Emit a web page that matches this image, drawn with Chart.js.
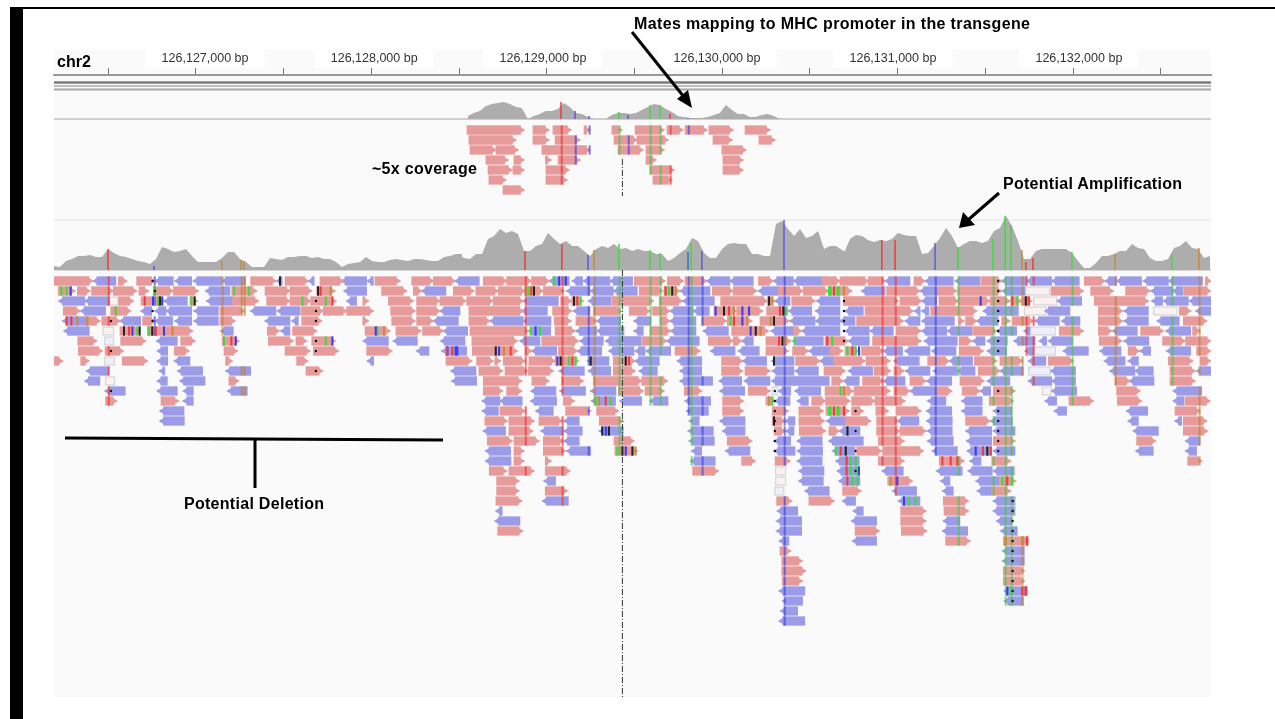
<!DOCTYPE html>
<html>
<head>
<meta charset="utf-8">
<title>chr2 read pileup</title>
<script src="https://cdn.jsdelivr.net/npm/chart.js@4/dist/chart.umd.min.js"></script>
<style>
  html, body { margin: 0; background: #fff; overflow: hidden; }
  #page { position: relative; width: 1275px; height: 719px; }
  #sidebar { position: absolute; left: 10px; top: 8px; width: 13px; height: 711px; background: #000; }
  #topline { position: absolute; left: 10px; top: 7px; width: 1265px; height: 2px; background: #000; }
  canvas { position: absolute; left: 0; top: 0; filter: blur(0.45px); }
  svg { position: absolute; left: 0; top: 0; filter: blur(0.3px); }
  svg text { font: bold 16px "Liberation Sans", Arial, sans-serif; fill: #000; }
</style>
</head>
<body>
<div id="page">
  <canvas id="igv" width="1275" height="719"></canvas>
  <div id="sidebar"></div>
  <div id="topline"></div>
  <svg width="1275" height="719">
    <text x="634" y="29" textLength="396">Mates mapping to MHC promoter in the transgene</text>
    <text x="372" y="174" textLength="105">~5x coverage</text>
    <text x="1003" y="189" textLength="179">Potential Amplification</text>
    <text x="184" y="509" textLength="140">Potential Deletion</text>
    <text x="57" y="67">chr2</text>
    <line x1="632" y1="32" x2="684" y2="97" stroke="#000" stroke-width="3"/>
    <polygon points="692,108 677,99 688,90" fill="#000"/>
    <line x1="999" y1="193" x2="968" y2="220" stroke="#000" stroke-width="3"/>
    <polygon points="959,228 963,212 975,225" fill="#000"/>
    <line x1="65" y1="438" x2="443" y2="440" stroke="#000" stroke-width="3"/>
    <line x1="255" y1="440" x2="255" y2="488" stroke="#000" stroke-width="3"/>
  </svg>
</div>
<script>
const bpOrigin = 126126000;
const viewStart = 191;
const viewEnd = 6786;

const rulerTicks = [500, 1000, 1500, 2000, 2500, 3000, 3500, 4000, 4500, 5000, 5500, 6000, 6500];
const rulerLabels = ["126,127,000 bp", "126,128,000 bp", "126,129,000 bp", "126,130,000 bp", "126,131,000 bp", "126,132,000 bp"];
const rulerLabelCentres = [1052, 2016, 2978, 3970, 4973, 6033];

// read depth, sampled every 34 bp
const topDepthStart = 2550;
const topDepth = [3,6,8,13,15,16,17,15,12,11,0,3,5,8,8,10,16,12,6,5,2,0,0,0,4,6,6,5,6,9,12,15,14,10,7,3,2,1,1,1,2,4,6,14,9,5,5,2,2,4,5,3,0];

const depthLeftStart = 191;
const depthLeft = [4,3,9,11,14,14,15,13,13,21,17,14,13,11,9,8,6,11,23,21,18,19,21,14,8,8,8,8,12,18,18,11,8,3,3,3,12,11,10,13,13,14,14,12,13,11,11,8,3,6,7,8,13,9,8,8,10,11,10,9,11,11,10,9,9,13,14,16,16];
const depthMiddleStart = 2494;
const depthMiddle = [16,12,11,16,16,31,34,41,37,39,36,19,19,24,26,37,31,26,29,24,24,19,14,21,24,22,26,21,22,19,21,19,19,16,16,9,12,17,21,32,29,17,12,12,21,26,27,26,26,16,16,14,14,46,49,41,34,41,32,34,39,21,24,24,20,17];
const depthRightStart = 4694;
const depthRight = [17,31,35,34,30,28,30,29,31,37,35,34,34,16,17,24,32,42,34,22,26,29,29,27,29,39,42,54,44,29,11,11,19,21,21,21,21,21,17,9,2,2,7,14,14,16,19,19,26,22,21,12,9,9,11,22,24,29,22,21,12,14];

// columns where most reads disagree with the reference: [position, depth]
const redSites = [[499,21],[2876,19],[3086,26],[4910,30],[4985,30],[5731,8],[5771,12]];
const blueSites = [[761,4],[3235,15],[3805,18],[3884,19],[4352,50],[5213,27]];
const greenSites = [[3411,26],[3588,20],[3645,17],[3822,27],[5344,23],[5543,31],[5612,54],[5646,45],[5993,18],[6563,15]];
const orangeSites = [[1148,9],[1257,10],[1274,9],[3269,20],[5708,20],[6239,16],[6717,22]];

const topRedSites = [[3081,17],[3702,5]];
const topBlueSites = [[3161,8],[3240,3],[3463,4],[3805,1]];
const topGreenSites = [[3411,7],[3588,14],[3645,14]];

// [row, start, end]
const topReads = [
  [1,2545,2870],[1,2921,3012],[1,3035,3138],[1,3212,3246],[1,3371,3428],[1,3503,3668],[1,3685,3776],[1,3788,3913],[1,3924,4061],[1,4130,4272],
  [2,2556,2824],[2,2921,3012],[2,3047,3189],[2,3383,3514],[2,3514,3691],[2,3947,4055],[2,4209,4300],
  [3,2562,2710],[3,2710,2836],[3,2972,3246],[3,3406,3548],[3,3565,3668],[3,3998,4135],
  [4,2653,2779],[4,2813,2870],[4,2995,3024],[4,3064,3189],[4,3565,3622],[4,4004,4118],
  [5,2665,2801],[5,2807,2870],[5,2995,3126],[5,3588,3725],[5,4004,4118],
  [6,2670,2767],[6,2995,3115],[6,3605,3713],
  [7,2750,2870]
];

const forwardReads = [
  [1,191,411],[1,558,605],[1,662,767],[1,1312,1456],[1,1508,1641],[1,1707,1840],[1,2021,2163],[1,2230,2353],[1,2353,2477],[1,2638,2771],[1,2771,2913],[1,2913,3014],[1,3499,3674],[1,3687,3778],[1,3788,3911],[1,4206,4291],[1,4567,4671],[1,4671,4833],[1,4833,4928],[1,5093,5156],[1,5475,5593],[1,6064,6182],[1,6757,6786],
  [2,215,310],[2,324,396],[2,405,529],[2,529,662],[2,675,729],[2,757,871],[2,871,1013],[2,1204,1346],[2,1394,1536],[2,1536,1660],[2,1688,1793],[2,2058,2201],[2,2239,2287],[2,2467,2585],[2,2596,2724],[2,2724,2876],[2,2876,2980],[2,2980,3098],[2,3527,3660],[2,3668,3759],[2,3943,4063],[2,4063,4196],[2,4320,4462],[2,4462,4605],[2,4605,4738],[2,4937,5127],[2,5226,5336],[2,5342,5593],[2,5874,6058],[2,6100,6229],[2,6299,6438],[2,6634,6784],
  [3,559,643],[3,687,767],[3,767,818],[3,966,1008],[3,1209,1356],[3,1403,1536],[3,1536,1654],[3,1654,1798],[3,1954,1983],[3,2097,2239],[3,2258,2391],[3,2391,2539],[3,2543,2695],[3,2695,2866],[3,3079,3142],[3,3142,3208],[3,3371,3607],[3,3641,3772],[3,3991,4257],[3,4257,4300],[3,4396,4529],[3,4690,5004],[3,5013,5137],[3,5235,5346],[3,5346,5526],[3,5526,5640],[3,5646,5707],[3,5707,5763],[3,6121,6429],
  [4,244,339],[4,514,628],[4,1137,1274],[4,1599,1726],[4,1726,1859],[4,1859,2011],[4,2110,2249],[4,2258,2391],[4,2556,2866],[4,3033,3142],[4,3265,3427],[4,3470,3588],[4,3603,3702],[4,3953,4082],[4,4082,4230],[4,4253,4377],[4,4814,5089],[4,5188,5450],[4,6144,6282],[4,6605,6670],
  [5,377,453],[5,463,567],[5,696,767],[5,1137,1223],[5,1603,1717],[5,1954,1983],[5,2116,2249],[5,2258,2353],[5,2556,2676],[5,3043,3138],[5,3166,3284],[5,3645,3702],[5,3883,4025],[5,4029,4168],[5,4215,4382],[5,4766,5032],[5,5346,5378],[5,5387,5450],[5,5593,5640],[5,5653,5773],[5,6144,6282],[5,6628,6761],
  [6,567,681],[6,723,981],[6,1407,1475],[6,1551,1688],[6,1964,2106],[6,2140,2283],[6,2292,2410],[6,2562,2895],[6,3047,3161],[6,3588,3706],[6,4054,4263],[6,4405,4453],[6,4990,5133],[6,5427,5564],[6,5921,6058],[6,6144,6220],[6,6385,6514],[6,6681,6723],
  [7,326,434],[7,571,713],[7,913,995],[7,1150,1245],[7,1413,1555],[7,1570,1631],[7,1660,1794],[7,2573,2832],[7,2971,3180],[7,3541,3683],[7,3921,4063],[7,4063,4111],[7,4249,4390],[7,4586,4719],[7,4857,5133],[7,5351,5422],[7,6149,6277],[7,6510,6638],[7,6641,6784],
  [8,330,466],[8,482,586],[8,877,960],[8,1160,1236],[8,1508,1650],[8,1669,1812],[8,1973,2116],[8,2575,2832],[8,2876,2914],[8,3066,3174],[8,3731,3873],[8,4249,4377],[8,4401,4491],[8,4614,4686],[8,4700,4776],[8,4794,4918],[8,5351,5488],[8,6314,6377],[8,6704,6784],
  [9,191,240],[9,343,390],[9,580,723],[9,1169,1207],[9,1574,1637],[9,2425,2572],[9,2600,2695],[9,2705,2737],[9,2752,2876],[9,2898,3047],[9,3047,3180],[9,3379,3503],[9,3996,4116],[9,4418,4557],[9,4633,4814],[9,4819,4956],[9,5171,5294],[9,5437,5564],[9,5583,5712],[9,5859,6001],[9,6543,6681],[9,6723,6784],
  [10,1627,1722],[10,2613,2748],[10,2762,2889],[10,2895,3037],[10,3379,3503],[10,3996,4116],[10,4130,4272],[10,4580,4700],[10,4865,4960],[10,4979,5036],[10,5459,5583],[10,6552,6695],
  [11,1188,1243],[11,2638,2857],[11,2915,3012],[11,3085,3208],[11,3265,3541],[11,3541,3687],[11,4624,4690],[11,4800,4918],[11,5070,5161],[11,5355,5492],[11,6239,6324],[11,6552,6695],
  [12,2638,2748],[12,2771,2857],[12,3408,3550],[12,3560,3668],[12,3784,3883],[12,4149,4272],[12,4586,4747],[12,4751,4956],[12,4979,5070],[12,5222,5308],[12,5368,5469],[12,5545,5669],[12,6248,6381],
  [13,485,548],[13,801,900],[13,3094,3157],[13,4002,4120],[13,4249,4300],[13,4510,4589],[13,4589,4728],[13,4737,4870],[13,4870,5042],[13,5522,5659],[13,5976,6115],[13,6252,6390],[13,6638,6780],
  [14,2733,2876],[14,3107,3250],[14,3284,3408],[14,4002,4120],[14,4285,4377],[14,4437,4576],[14,4591,4724],[14,4737,4804],[14,4876,4947],[14,4990,5133],[14,6581,6723],
  [15,2647,2775],[15,2784,2927],[15,2955,3088],[15,3299,3436],[15,4285,4358],[15,4437,4582],[15,4700,4846],[15,4880,5004],[15,5387,5526],[15,6628,6761],
  [16,2784,2919],[16,4297,4358],[16,4439,4589],[16,4608,4667],[16,4880,5013],[16,5013,5161],[16,6628,6765],
  [17,2661,2803],[17,2813,2955],[17,2980,3094],[17,3383,3497],[17,4029,4168],[17,4890,5036],[17,5545,5669],[17,6362,6470],
  [18,2813,2870],[18,2980,3104],[18,3388,3516],[18,4766,4909],[18,4914,5146],
  [19,2813,2870],[19,2991,3024],[19,4110,4188],[19,4301,4386],[19,4890,5036],[19,5237,5378],[19,5536,5644],[19,6653,6733],
  [20,2672,2771],[20,2784,2927],[20,2991,3132],[20,3831,3977],
  [21,2714,2841],[21,4943,5083],[21,5579,5672],
  [22,2714,2841],[22,2991,3117],[22,4686,4791],[22,5536,5644],
  [23,2710,2857],[23,4310,4396],[23,4494,4637],[23,5260,5403],
  [24,5017,5161],[24,5264,5403],
  [25,5017,5161],
  [26,2720,2862],[26,4757,4895],[26,5021,5165],
  [27,5273,5412],[27,5602,5745],
  [28,4329,4390],
  [29,4339,4456],
  [30,4339,4475],[30,5602,5722],
  [31,4342,4456],[31,5602,5722]
];

const reverseReads = [
  [1,415,544],[1,767,871],[1,880,976],[1,985,1147],[1,1147,1283],[1,1460,1489],[1,1641,1673],[1,1830,1973],[1,1977,2011],[1,2477,2615],[1,3014,3128],[1,3145,3204],[1,3208,3360],[1,3360,3489],[1,3911,4044],[1,4044,4177],[1,4291,4405],[1,4405,4567],[1,4928,5070],[1,5156,5317],[1,5327,5469],[1,5593,5735],[1,5735,5878],[1,5878,6035],[1,6182,6248],[1,6248,6390],[1,6400,6543],[1,6543,6738],
  [2,1055,1194],[2,1844,1973],[2,2287,2425],[2,3113,3246],[2,3246,3379],[2,3379,3516],[2,3759,3930],[2,4206,4320],[2,4794,4928],[2,5127,5222],[2,5596,5726],[2,6444,6567],[2,6567,6628],
  [3,219,367],[3,367,506],[3,818,951],[3,1061,1209],[3,1859,1916],[3,2866,3066],[3,3237,3366],[3,3774,3955],[3,4300,4386],[3,4538,4671],[3,5137,5222],[3,5910,6049],[3,6448,6510],[3,6514,6657],[3,6662,6784],
  [4,343,485],[4,687,748],[4,767,829],[4,829,976],[4,989,1128],[4,1312,1456],[4,1464,1593],[4,2391,2505],[4,2857,3003],[4,3151,3246],[4,3702,3835],[4,3835,3926],[4,4377,4510],[4,4532,4671],[4,4700,4804],[4,5095,5127],[4,5137,5178],[4,5488,5688],[4,5840,5982],[4,6290,6429],[4,6700,6784],
  [5,240,377],[5,567,685],[5,767,867],[5,880,976],[5,989,1128],[5,1394,1536],[5,1546,1584],[5,2353,2496],[5,2676,2866],[5,2866,3024],[5,3284,3421],[5,3497,3592],[5,3702,3850],[5,4386,4529],[5,4532,4671],[5,4671,4757],[5,5042,5127],[5,5137,5323],[5,5450,5573],[5,5783,5921],[5,5935,6039],[5,6290,6429],[5,6480,6605],
  [6,248,392],[6,1141,1213],[6,1483,1536],[6,2410,2549],[6,2895,3022],[6,3166,3284],[6,3284,3440],[6,3497,3550],[6,3706,3850],[6,3892,4035],[6,4278,4405],[6,4453,4671],[6,4700,4838],[6,4842,4975],[6,5137,5279],[6,5283,5422],[6,5564,5678],[6,5720,5754],[6,6225,6366],[6,6529,6670],
  [7,776,894],[7,1954,2097],[7,2125,2262],[7,2395,2534],[7,2847,2961],[7,3189,3322],[7,3335,3537],[7,3683,3869],[7,4111,4177],[7,4401,4576],[7,4719,4838],[7,5152,5340],[7,5427,5498],[7,5511,5625],[7,5663,5783],[7,5807,5849],[7,5859,5995],[7,6290,6432],
  [8,780,839],[8,2258,2328],[8,2401,2543],[8,2914,3056],[8,3174,3313],[8,3354,3497],[8,3503,3560],[8,3565,3706],[8,3934,4073],[8,4092,4211],[8,4494,4633],[8,4918,5028],[8,5042,5184],[8,5194,5332],[8,5511,5621],[8,5726,5773],[8,5944,6087],[8,6153,6273],[8,6381,6442],[8,6533,6670],
  [9,780,839],[9,877,966],[9,1977,2013],[9,3233,3354],[9,3503,3641],[9,3744,3883],[9,4116,4253],[9,4282,4409],[9,4557,4633],[9,4979,5123],[9,5294,5427],[9,5745,5845],[9,6178,6296],[9,6314,6372],
  [10,377,501],[10,791,818],[10,896,1038],[10,1171,1312],[10,2454,2596],[10,3071,3214],[10,3237,3364],[10,3527,3630],[10,3759,3883],[10,4285,4409],[10,4415,4548],[10,4719,4857],[10,5045,5184],[10,5203,5340],[10,5340,5441],[10,5583,5716],[10,5872,6014],[10,6210,6352],[10,6352,6457],[10,6704,6784],
  [11,367,453],[11,780,837],[11,909,1052],[11,2458,2600],[11,3759,3945],[11,3983,4111],[11,4126,4272],[11,4282,4610],[11,4690,4781],[11,4918,5042],[11,5165,5308],[11,5511,5640],[11,5745,5878],[11,5878,6014],[11,6320,6461],
  [12,482,597],[12,780,894],[12,928,985],[12,1181,1293],[12,2910,3052],[12,3075,3221],[12,3250,3394],[12,3987,4128],[12,4320,4390],[12,4415,4561],[12,5070,5222],[12,5469,5530],[12,5878,6020],[12,6571,6733],
  [13,928,985],[13,2632,2733],[13,2733,2860],[13,2908,3056],[13,3255,3392],[13,3417,3541],[13,3588,3691],[13,3788,3934],[13,4300,4386],[13,4428,4491],[13,5171,5275],[13,5365,5482],[13,5840,5906],[13,6571,6632],
  [14,795,932],[14,2632,2724],[14,2938,3037],[14,3797,3921],[14,5165,5308],[14,5365,5482],[14,5545,5650],[14,5893,5963],[14,6305,6425],
  [15,795,934],[15,3098,3185],[15,3812,3869],[15,3987,4130],[15,4358,4415],[15,4595,4700],[15,4998,5121],[15,5165,5311],[15,5530,5653],[15,6314,6372],[15,6581,6619],
  [16,2638,2765],[16,2967,3094],[16,3098,3202],[16,3299,3436],[16,3806,3949],[16,4002,4130],[16,4361,4409],[16,4667,4785],[16,5169,5311],[16,5389,5536],[16,5545,5669],[16,6343,6486],
  [17,3098,3185],[17,3812,3955],[17,4297,4390],[17,4428,4570],[17,4608,4804],[17,5171,5317],[17,5393,5536],[17,6641,6723],
  [18,2651,2794],[18,3113,3250],[18,3825,3883],[18,4019,4158],[18,4297,4415],[18,4428,4572],[18,4629,4757],[18,5197,5340],[18,5397,5536],[18,5545,5669],[18,6358,6457],[18,6641,6704],
  [19,2651,2796],[19,3820,3960],[19,4428,4570],[19,4648,4781],[19,5412,5475],
  [20,4437,4580],[20,4656,4779],[20,4912,5032],[20,5222,5368],[20,5402,5539],[20,5545,5665],
  [21,2984,3050],[21,4437,4576],[21,4665,4785],[21,5245,5298],[21,5446,5579],
  [22,4472,4610],[22,4971,5108],[22,5256,5317],[22,5454,5536],
  [23,2976,3123],[23,4686,4760],[23,5004,5127],[23,5545,5669],
  [24,2710,2746],[24,4314,4430],[24,4747,4804],[24,5545,5669],
  [25,2705,2847],[25,4310,4453],[25,4737,4880],[25,5260,5355],[25,5564,5650],
  [26,4310,4453],[26,5256,5399],[26,5587,5682],
  [27,4325,4380],[27,4743,4880],
  [28,5598,5722],
  [29,5598,5722],
  [32,4325,4471],[32,5608,5735],
  [33,4344,4458],[33,5608,5716],
  [34,4333,4430],
  [35,4325,4471]
];

// low mapping quality reads, drawn hollow
const paleForwardReads = [[3,506,559],[6,468,533],[11,482,539],[2,5726,5868],[3,5773,5910],[4,5720,5849],[4,6457,6594],[12,5821,5878],[20,4301,4364],[21,4301,4364]];
const paleReverseReads = [[7,476,533],[9,476,539],[6,5754,5902],[8,5773,5902],[10,5745,5872],[12,4282,4320],[22,4297,4354]];

// single read mismatches: [row, position]
const redTicks = [[5,259],[5,286],[3,704],[6,615],[6,767],[7,1198],[2,1707],[3,1774],[8,2458],[2,2908],[2,3673],[3,3170],[4,4035],[4,4325],[5,4063],[7,4320],[7,4595],[8,2429],[8,2790],[9,3142],[9,3465],[13,3332],[14,4633],[18,4671],[19,4705],[20,4705],[21,4709],[14,4690],[18,5482],[18,5526],[19,5251],[19,5298],[19,5336],[21,5621],[27,5735],[32,5706],[32,5725],[2,4633],[3,5650],[3,5745],[8,4738]];
const blueTicks = [[2,282],[3,751],[3,804],[6,634],[6,814],[7,1223],[6,2021],[7,1774],[8,2429],[8,2486],[1,3066],[1,3104],[4,3958],[4,4111],[4,4149],[5,4111],[6,2932],[6,4158],[8,2477],[8,2724],[9,3056],[16,3332],[18,3446],[23,5032],[21,4994],[20,4775],[18,5441],[32,5621],[8,4776],[3,5469]];
const greenTicks = [[2,229],[2,259],[3,780],[6,662],[6,728],[2,757],[4,539],[3,970],[7,1156],[3,1736],[3,1603],[6,2031],[7,1736],[2,1213],[2,1299],[1,3037],[2,2895],[2,3692],[2,4614],[2,4652],[3,3189],[4,4363],[5,4044],[6,2904],[6,2957],[7,4409],[7,4623],[9,3122],[9,3161],[13,3274],[13,3360],[13,4282],[14,4614],[14,4652],[18,3398],[18,4643],[19,4728],[19,4757],[20,4728],[20,4757],[21,4738],[21,4766],[14,4605],[14,4661],[23,5060],[23,5098],[12,4671],[21,5592],[21,5650],[32,5644],[2,4604],[2,4661],[3,5678],[8,4709],[8,4757]];
const orangeTicks = [[5,320],[5,377],[6,862],[2,1764],[6,2068],[2,2881],[2,3731],[3,4282],[4,4063],[5,4139],[5,4272],[6,4215],[7,4358],[8,2752],[13,3294],[13,4263],[18,3502],[21,4956],[12,4690],[27,5612],[27,5707],[2,4690]];
const darkTicks = [[3,791],[6,586],[6,675],[6,747],[3,989],[2,1692],[2,2923],[2,3711],[3,3151],[4,4006],[4,4344],[5,4291],[6,4187],[7,4339],[8,2705],[9,3075],[9,3246],[9,3446],[9,4291],[16,3312],[16,3350],[18,3427],[18,3484],[15,4291],[18,4700],[16,4710],[18,5507],[1,1475],[3,5726],[3,4263]];

// small insertion markers: [row, position]
const insertionDots = [[1,753],[4,753],[5,753],[2,767],[5,516],[8,516],[12,516],[3,1684],[4,1684],[5,1684],[7,1684],[8,1684],[10,1684],[1,5573],[2,5573],[3,5573],[4,5573],[5,5573],[6,5573],[7,5573],[8,5573],[12,5573],[3,4694],[4,4694],[5,4694],[6,4694],[7,4694],[12,4300],[13,4300],[14,4300],[15,4300],[16,4300],[17,4300],[18,4300],[23,5655],[24,5655],[25,5655],[26,5655],[27,5655],[28,5655],[29,5655],[30,5655],[31,5655],[32,5655],[33,5655],[14,5573],[15,5573],[16,5573],[17,5573],[18,5573],[14,4760],[16,4760],[18,4760],[20,4760]];

const centreLinePosition = 3431;

const readPink = "#e79a9a";
const readBlue = "#9b9be7";
const depthGrey = "#adadad";
const tickRed = "#ef3b3b";
const tickBlue = "#3a3af0";
const tickGreen = "#3ddc3d";
const tickOrange = "#c98a3a";
const tickDark = "#222";
const siteRed = "rgba(239,59,59,0.75)";
const siteBlue = "rgba(70,70,225,0.7)";
const siteGreen = "rgba(70,200,70,0.7)";
const siteOrange = "rgba(190,130,60,0.7)";

const headBp = 20;
const readHeight = 8.6;
const allReads = forwardReads.concat(reverseReads);

function toBars(reads, trim) {
  return reads.map(([row, start, end]) => ({ x: [start + trim[0], end - trim[1]], y: row }));
}

function readBars(label, reads, yAxisID, color, trim) {
  return {
    type: "bar", indexAxis: "y", label, yAxisID, xAxisID: "x",
    data: toBars(reads, trim),
    backgroundColor: color, barThickness: readHeight, grouped: false,
  };
}

function paleBars(label, reads, fill) {
  return {
    type: "bar", indexAxis: "y", label, yAxisID: "yReads", xAxisID: "x",
    data: toBars(reads, [0, 0]),
    backgroundColor: fill, borderColor: "#d8d8d8", borderWidth: 1.5, borderSkipped: false,
    barThickness: readHeight, grouped: false,
  };
}

function arrowHeads(label, reads, yAxisID, color, forward) {
  return {
    type: "scatter", label, yAxisID, xAxisID: "x",
    data: reads.map(([row, start, end]) => ({ x: forward ? end - headBp : start + headBp, y: row })),
    pointStyle: "triangle", rotation: forward ? 90 : -90, pointRadius: 4.9,
    pointBackgroundColor: color, pointBorderWidth: 0, showLine: false,
  };
}

function tickBars(label, ticks, yAxisID, color) {
  return {
    type: "bar", indexAxis: "y", label, yAxisID, xAxisID: "x",
    data: ticks.map(([row, pos]) => ({ x: [pos, pos + 8], y: row })),
    backgroundColor: color, barThickness: readHeight, grouped: false,
  };
}

// every read covering a site carries the site's colour
function siteTicks(sites, reads) {
  const ticks = [];
  for (const [pos] of sites) {
    for (const [row, start, end] of reads) {
      if (start <= pos && pos <= end) ticks.push([row, pos]);
    }
  }
  return ticks;
}

function depthArea(label, start, values, yAxisID) {
  return {
    type: "scatter", label, yAxisID, xAxisID: "x",
    data: values.map((v, i) => ({ x: start + i * 34.2, y: v })),
    showLine: true, pointRadius: 0, borderWidth: 0, borderColor: depthGrey,
    backgroundColor: depthGrey, fill: "origin",
  };
}

function siteSpikes(label, sites, yAxisID, color) {
  const data = [];
  for (const [pos, depth] of sites) {
    data.push({ x: pos, y: 0 }, { x: pos, y: depth }, { x: NaN, y: NaN });
  }
  return {
    type: "scatter", label, yAxisID, xAxisID: "x", data,
    showLine: true, pointRadius: 0, borderWidth: 1.5, borderColor: color, spanGaps: false,
  };
}

function rule(label, yAxisID, y, color, width) {
  return {
    type: "scatter", label, yAxisID, xAxisID: "x",
    data: [{ x: viewStart, y }, { x: viewEnd, y }],
    showLine: true, pointRadius: 0, borderWidth: width, borderColor: color, clip: false,
  };
}

function centreLine(label, yAxisID, from, to) {
  return {
    type: "scatter", label, yAxisID, xAxisID: "x",
    data: [{ x: centreLinePosition, y: from }, { x: centreLinePosition, y: to }],
    showLine: true, pointRadius: 0, borderWidth: 1, borderColor: "#333", borderDash: [6, 2, 1, 2],
  };
}

const panelBackground = {
  id: "panelBackground",
  beforeDraw(chart) {
    const { ctx, chartArea } = chart;
    ctx.save();
    ctx.fillStyle = "#fafafa";
    ctx.fillRect(chartArea.left, chart.scales.xLabels.top, chartArea.width, chartArea.bottom - chart.scales.xLabels.top);
    ctx.restore();
  },
};

new Chart(document.getElementById("igv"), {
  type: "scatter",
  data: {
    // first dataset is drawn on top
    datasets: [
      centreLine("centre top", "yTopReads", 3.9, 7.6),
      centreLine("centre", "yReads", -0.1, 42.6),
      {
        type: "scatter", label: "insertions", yAxisID: "yReads", xAxisID: "x",
        data: insertionDots.map(([row, pos]) => ({ x: pos, y: row })),
        pointRadius: 1.2, pointBackgroundColor: "#111", pointBorderWidth: 0, showLine: false,
      },
      tickBars("dark", darkTicks, "yReads", tickDark),
      tickBars("red", redTicks, "yReads", tickRed),
      tickBars("blue", blueTicks, "yReads", tickBlue),
      tickBars("green", greenTicks, "yReads", tickGreen),
      tickBars("orange", orangeTicks, "yReads", tickOrange),
      tickBars("red sites", siteTicks(redSites, allReads), "yReads", siteRed),
      tickBars("blue sites", siteTicks(blueSites, allReads), "yReads", siteBlue),
      tickBars("green sites", siteTicks(greenSites, allReads), "yReads", siteGreen),
      tickBars("orange sites", siteTicks(orangeSites, allReads), "yReads", siteOrange),
      tickBars("top red", siteTicks(topRedSites, topReads), "yTopReads", siteRed),
      tickBars("top blue", siteTicks(topBlueSites, topReads), "yTopReads", siteBlue),
      tickBars("top green", siteTicks(topGreenSites, topReads), "yTopReads", siteGreen),
      arrowHeads("forward heads", forwardReads, "yReads", readPink, true),
      arrowHeads("reverse heads", reverseReads, "yReads", readBlue, false),
      arrowHeads("top heads", topReads, "yTopReads", readPink, true),
      readBars("forward", forwardReads, "yReads", readPink, [0, headBp]),
      readBars("reverse", reverseReads, "yReads", readBlue, [headBp, 0]),
      readBars("top reads", topReads, "yTopReads", readPink, [0, headBp]),
      paleBars("pale forward", paleForwardReads, "#fbf1f0"),
      paleBars("pale reverse", paleReverseReads, "#eeeffa"),
      siteSpikes("spike red", redSites, "yDepth", tickRed),
      siteSpikes("spike blue", blueSites, "yDepth", "#5a5ae0"),
      siteSpikes("spike green", greenSites, "yDepth", tickGreen),
      siteSpikes("spike orange", orangeSites, "yDepth", tickOrange),
      siteSpikes("top spike red", topRedSites, "yTopDepth", tickRed),
      siteSpikes("top spike blue", topBlueSites, "yTopDepth", "#5a5ae0"),
      siteSpikes("top spike green", topGreenSites, "yTopDepth", tickGreen),
      depthArea("depth left", depthLeftStart, depthLeft, "yDepth"),
      depthArea("depth middle", depthMiddleStart, depthMiddle, "yDepth"),
      depthArea("depth right", depthRightStart, depthRight, "yDepth"),
      depthArea("depth top", topDepthStart, topDepth, "yTopDepth"),
      rule("depth floor", "yDepth", 0, "#d9d9d9", 2),
      rule("depth ceiling", "yDepth", 50, "#e2e2e2", 1),
      rule("top floor", "yTopDepth", 0, "#cfcfcf", 2),
      rule("header 1", "yHeader", 7.5, "#7c7c7c", 2.5),
      rule("header 2", "yHeader", 11, "#a8a8a8", 1.5),
      rule("header 3", "yHeader", 14.5, "#a8a8a8", 2),
    ],
  },
  plugins: [panelBackground],
  options: {
    responsive: false,
    animation: false,
    events: [],
    layout: { padding: { left: 54, right: 64, top: 50, bottom: 22 } },
    plugins: { legend: { display: false }, tooltip: { enabled: false } },
    scales: {
      x: {
        type: "linear", position: "top", weight: 0, min: viewStart, max: viewEnd, offset: false,
        afterFit(scale) { scale.height = 7; },
        afterBuildTicks(scale) { scale.ticks = rulerTicks.map(value => ({ value })); },
        ticks: { display: false },
        grid: { drawOnChartArea: false, drawTicks: true, tickLength: 7, color: "#777", tickWidth: 1 },
        border: { color: "#999", width: 2 },
      },
      xLabels: {
        type: "linear", position: "top", weight: 1, min: viewStart, max: viewEnd,
        afterFit(scale) { scale.height = 18; },
        afterBuildTicks(scale) { scale.ticks = rulerLabelCentres.map(value => ({ value })); },
        ticks: {
          autoSkip: false, maxRotation: 0, minRotation: 0, padding: 2,
          color: "#333", font: { family: "'Liberation Sans', Arial, sans-serif", size: 12.5 },
          callback: (value, i) => rulerLabels[i],
          showLabelBackdrop: true, backdropColor: "#fff", backdropPadding: { x: 16, y: 3 },
        },
        grid: { display: false, drawTicks: false },
        border: { display: false },
      },
      // stacked axes are placed bottom first
      yReads: { type: "linear", display: false, position: "left", stack: "tracks", stackWeight: 427, min: -0.1, max: 42.6, reverse: true, offset: false },
      yDepth: { type: "linear", display: false, position: "left", stack: "tracks", stackWeight: 58, min: 0, max: 58 },
      yTopReads: { type: "linear", display: false, position: "left", stack: "tracks", stackWeight: 93, min: -0.1, max: 9.2, reverse: true, offset: false },
      yTopDepth: { type: "linear", display: false, position: "left", stack: "tracks", stackWeight: 27, min: 0, max: 27 },
      yHeader: { type: "linear", display: false, position: "left", stack: "tracks", stackWeight: 17, min: 0, max: 17, reverse: true },
    },
  },
});
</script>
</body>
</html>
